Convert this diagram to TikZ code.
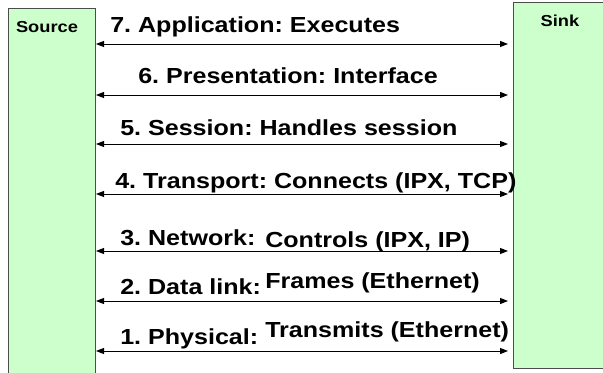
\documentclass[tikz,border=0pt]{standalone}
\usepackage{fontspec}
\setmainfont{Liberation Sans}
\newfontfamily\widefont{Liberation Sans}[FakeStretch=1.15]
\usepackage{xcolor}
\usetikzlibrary{arrows.meta, positioning}
\definecolor{hostgreen}{HTML}{CCFFCC}

\begin{document}
\frenchspacing
\begin{tikzpicture}[
        x=0.025cm, y=-0.025cm,
        >={Triangle[length=0.2cm, width=0.15cm]},
        host/.style={draw=black!70, fill=hostgreen, line width=0.6pt},
        hostname/.style={font=\widefont\fontsize{11.3}{13}\selectfont\bfseries, inner sep=0},
        layer/.style={font=\widefont\fontsize{15.5}{18}\selectfont\bfseries, anchor=base west, inner sep=0},
        arrow/.style={<->, line width=0.7pt}
    ]
        \useasboundingbox (0,0) rectangle (603,373);

        \node[host, minimum width=2.175cm, minimum height=9.3cm] (source) at (51.5,194) {};
        \node[host, minimum width=2.425cm, minimum height=9.15cm] (sink) at (561.5,185) {};

        \node[hostname] (sourcename) at (47,27.5) {Source};
        \node[hostname] (sinkname) at (560,21) {Sink};

        \coordinate (s7) at (96,44);  \coordinate (k7) at (508,44);
        \coordinate (s6) at (96,95);  \coordinate (k6) at (508,95);
        \coordinate (s5) at (96,144); \coordinate (k5) at (508,144);
        \coordinate (s4) at (96,194); \coordinate (k4) at (508,194);
        \coordinate (s3) at (96,251); \coordinate (k3) at (508,251);
        \coordinate (s2) at (96,301); \coordinate (k2) at (508,301);
        \coordinate (s1) at (96,351); \coordinate (k1) at (508,351);

        \draw[arrow] (s7) -- (k7);
        \draw[arrow] (s6) -- (k6);
        \draw[arrow] (s5) -- (k5);
        \draw[arrow] (s4) -- (k4);
        \draw[arrow] (s3) -- (k3);
        \draw[arrow] (s2) -- (k2);
        \draw[arrow] (s1) -- (k1);

        \node[layer] (app) at (110,33) {7. Application: Executes};
        \node[layer] (pres) at (138,84) {6. Presentation: Interface};
        \node[layer] (sess) at (120,136) {5. Session: Handles session};
        \node[layer] (trans) at (115,189) {4. Transport: Connects (IPX, TCP)};
        \node[layer] (net) at (120,245) {3. Network:};
        \node[layer] (netdo) at (265,247) {Controls (IPX, IP)};
        \node[layer] (link) at (120,294) {2. Data link:};
        \node[layer] (linkdo) at (265,288) {Frames (Ethernet)};
        \node[layer] (phys) at (120,344) {1. Physical:};
        \node[layer] (physdo) at (265,337) {Transmits (Ethernet)};

    \end{tikzpicture}
\end{document}
